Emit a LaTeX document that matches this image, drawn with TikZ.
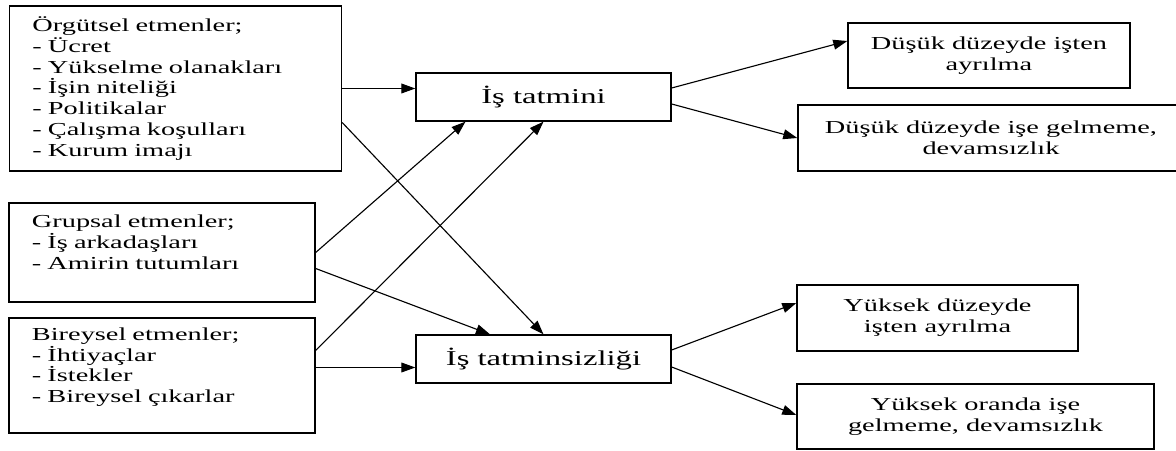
\documentclass[tikz,border=0pt]{standalone}
\usepackage{fontspec}
\setmainfont{Liberation Serif}
\newfontfamily\widefont[FakeStretch=1.55]{Liberation Serif}
\usetikzlibrary{calc,arrows.meta}

\begin{document}
\begin{tikzpicture}[x=0.025cm,y=-0.025cm,
		box/.style={draw,line width=0.9pt,inner sep=0pt,font=\widefont\fontsize{13}{14.8}\selectfont},
		listbox/.style={box,align=left,inner xsep=0.575cm},
		mainbox/.style={box,minimum width=6.375cm,minimum height=1.2cm,font=\widefont\fontsize{15}{17}\selectfont},
		resultbox/.style={box,align=center},
		link/.style={line width=0.8pt,-{Triangle[length=10pt,width=7pt]}}]
		\useasboundingbox (0,0) rectangle (1176,451);
		\clip (0,0) rectangle (1176,451);
		
		% Factors
		\node[listbox,text width=7.15cm,minimum height=4.125cm] (org) at (175.5,88.5)
			{Örgütsel etmenler;\\- Ücret\\- Yükselme olanakları\\- İşin niteliği\\- Politikalar\\- Çalışma koşulları\\- Kurum imajı};
		\node[listbox,text width=6.5cm,minimum height=2.475cm] (grp) at (162,252.5)
			{Grupsal etmenler;\\- İş arkadaşları\\- Amirin tutumları\\~};
		\node[listbox,text width=6.5cm,minimum height=2.875cm] (bir) at (162,375.5)
			{Bireysel etmenler;\\- İhtiyaçlar\\- İstekler\\- Bireysel çıkarlar\\~};
		
		% Satisfaction / dissatisfaction
		\node[mainbox] (sat) at (543.5,97) {İş tatmini};
		\node[mainbox] (dis) at (543.5,359) {İş tatminsizliği};
		
		% Results
		\node[resultbox,minimum width=7.05cm,minimum height=1.625cm] (lowquit) at (989,55.5)
			{Düşük düzeyde işten\\ayrılma};
		\node[resultbox,minimum width=9.65cm,minimum height=1.65cm] (lowabs) at (991,138)
			{Düşük düzeyde işe gelmeme,\\devamsızlık};
		\node[resultbox,minimum width=7.025cm,minimum height=1.65cm] (highquit) at (937.5,318)
			{Yüksek düzeyde\\işten ayrılma};
		\node[resultbox,minimum width=8.925cm,minimum height=1.625cm] (highabs) at (975.5,416.5)
			{Yüksek oranda işe\\gelmeme, devamsızlık};
		
		% Draw links from factors
		\coordinate (b1) at ($(bir.east)+(0,-8)$);
		\draw[link] (org.east) -- (org.east -| sat.west);
		\draw[link] ($(org.east)+(0,34)$) -- (dis.north);
		\draw[link] (grp.east) -- ($(sat.south)+(-78,0)$);
		\draw[link] ($(grp.east)+(0,16)$) -- ($(dis.north)+(-53.5,0)$);
		\draw[link] ($(bir.east)+(0,-25)$) -- (sat.south);
		\draw[link] (b1) -- (b1 -| dis.west);
		
		% Draw links to results
		\draw[link] ($(sat.east)+(0,-9)$) -- ($(lowquit.west)+(0,-14.5)$);
		\draw[link] ($(sat.east)+(0,7)$) -- (lowabs.west);
		\draw[link] ($(dis.east)+(0,-9)$) -- ($(highquit.west)+(0,-15)$);
		\draw[link] ($(dis.east)+(0,8)$) -- ($(highabs.west)+(0,-1.5)$);
		
	\end{tikzpicture}
\end{document}
